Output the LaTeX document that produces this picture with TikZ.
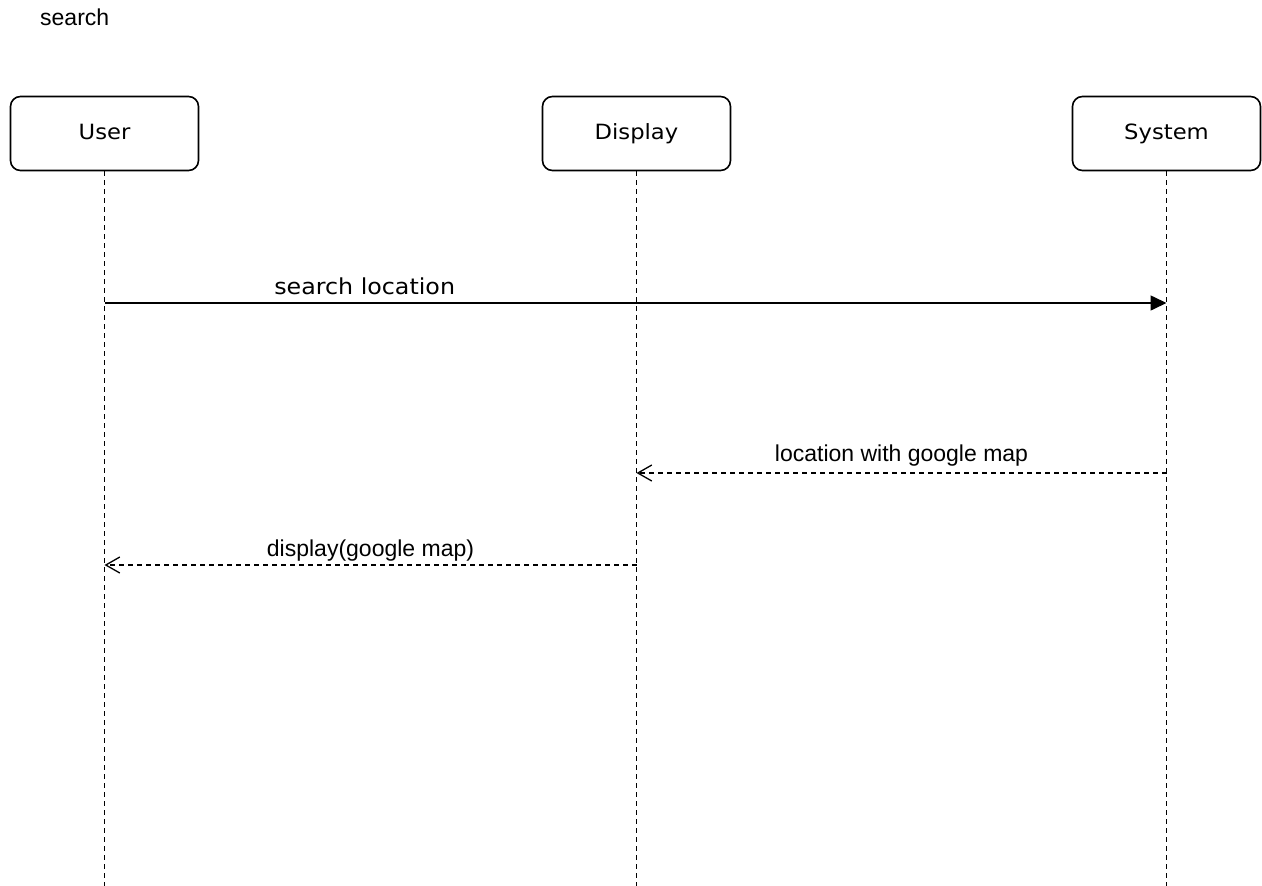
\documentclass[tikz,border=0pt]{standalone}
\usepackage{fontspec}
\setmainfont{Liberation Sans}
\newfontfamily\boxfont[FakeStretch=1.08]{DejaVu Sans}
\usetikzlibrary{arrows.meta}

\tikzset{
  actor/.style={draw, line width=1.6pt, rounded corners=10pt,
    minimum width=188pt, minimum height=74pt,
    text height=15.5pt, text depth=3.5pt,
    font=\boxfont\fontsize{21}{25}\selectfont},
  lifeline/.style={line width=1.3pt, dash pattern=on 5pt off 4pt},
  msg/.style={line width=1.6pt, -{Triangle[length=16pt,width=15pt]}},
  reply/.style={line width=1.3pt, dash pattern=on 5pt off 4pt,
    -{Straight Barb[length=14pt,width=16pt,line width=1.3pt]}},
  msglabel/.style={anchor=base, inner sep=0pt, font=\fontsize{23}{27}\selectfont}
}

\begin{document}
\begin{tikzpicture}[x=1pt,y=-1pt]
  \useasboundingbox (0,0) rectangle (1262,886);

  % Titulo
  \node[anchor=base west, inner sep=0pt, font=\fontsize{23}{27}\selectfont] (title) at (40,25) {search};

  % Cajas
  \node[actor] (user) at (104.5,133.5) {User};
  \node[actor] (display) at (636.5,133.5) {Display};
  \node[actor] (system) at (1166.5,133.5) {System};

  % Lineas de vida
  \coordinate (bottom) at (0,886);
  \foreach \a in {user,display,system}
    \draw[lifeline] (\a.south) -- (\a.south |- bottom);

  % Mensajes
  \coordinate (y1) at (0,303);
  \coordinate (y2) at (0,473);
  \coordinate (y3) at (0,565);
  \draw[msg] (user |- y1) -- (system |- y1)
    node[msglabel, pos=.245, yshift=9pt, font=\boxfont\fontsize{22}{26}\selectfont] (l1) {search location};
  \draw[reply] (system |- y2) -- (display |- y2)
    node[msglabel, midway, yshift=12pt] (l2) {location with google map};
  \draw[reply] (display |- y3) -- (user |- y3)
    node[msglabel, midway, yshift=9pt] (l3) {display(google map)};
\end{tikzpicture}
\end{document}
